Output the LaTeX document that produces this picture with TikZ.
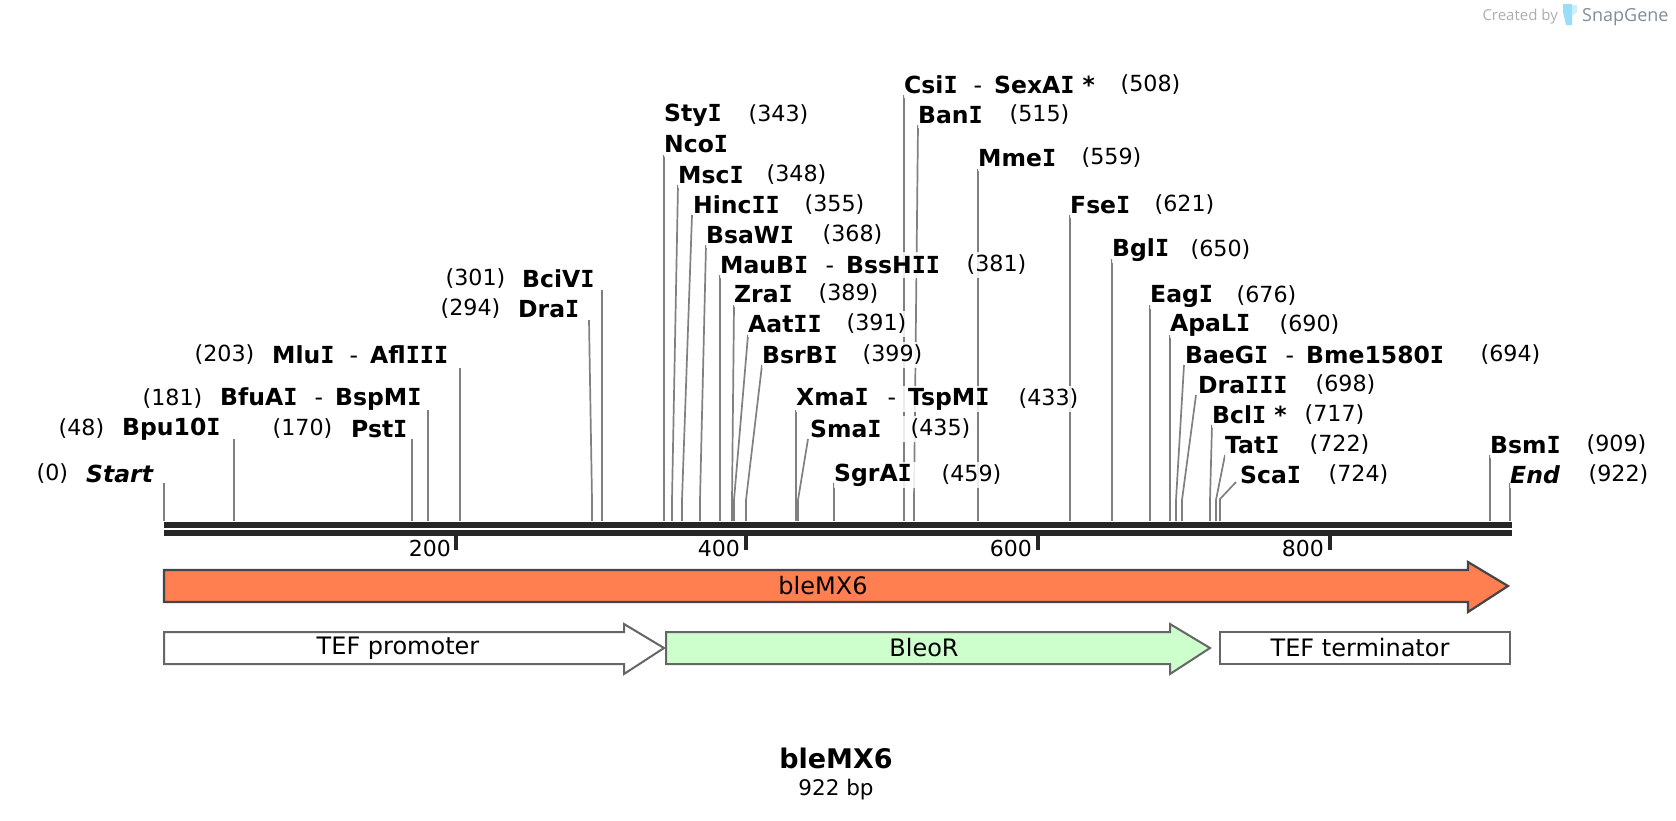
\documentclass[tikz,border=0pt]{standalone}
\usepackage{fontspec}
\setmainfont{DejaVu Sans}
\newfontfamily\logofont{Open Sans}
\newfontfamily\monoIfont{DejaVu Sans Mono}
\definecolor{barcol}{HTML}{262626}
\definecolor{sitecol}{HTML}{808080}
\definecolor{genecol}{HTML}{FF7F50}
\definecolor{bleocol}{HTML}{CCFFCC}
\definecolor{logogray}{HTML}{7F8C99}
\tikzset{
    siteline/.style={draw=sitecol, line width=1.7pt},
    barline/.style={draw=barcol, line width=6pt},
    tickline/.style={draw=barcol, line width=4pt},
    enzname/.style={anchor=west, xshift=-1pt, yshift=-1pt, inner xsep=0pt, inner ysep=0pt, minimum height=26pt, fill=white, fill opacity=0.85, text opacity=1, font=\fontsize{23.5}{26}\selectfont\bfseries},
    enzpos/.style={anchor=west, xshift=-0.5pt, yshift=-1pt, inner xsep=0pt, inner ysep=0pt, minimum height=26pt, fill=white, fill opacity=0.85, text opacity=1, font=\fontsize{22.2}{26}\selectfont},
    ticklabel/.style={anchor=east, inner sep=0pt, font=\fontsize{22}{26}\selectfont},
    featlabel/.style={inner sep=0pt, font=\fontsize{24}{28}\selectfont},
    genebox/.style={draw=black!73, line width=2.2pt, fill=genecol},
    featbox/.style={draw=black!60, line width=2pt},
}
\newcommand{\sI}{{\monoIfont I}}
\newcommand{\pairname}[3]{\makebox[#3pt][l]{#1\hfill{\mdseries-}\hspace{12pt}}#2}
\begin{document}
\begin{tikzpicture}[x=1pt,y=-1pt]
    \useasboundingbox (0,0) rectangle (1676,820);
    % site lines, lower end on the sequence bar
    \coordinate (startB) at (164,521); \coordinate (startT) at (164,483);
    \coordinate (bpuB) at (234,521); \coordinate (bpuT) at (234,439);
    \coordinate (pstB) at (412,521); \coordinate (pstT) at (412,439);
    \coordinate (bfuB) at (428,521); \coordinate (bfuT) at (428,410);
    \coordinate (mluB) at (460,521); \coordinate (mluT) at (460,368);
    \coordinate (draB) at (592,521); \coordinate (draM) at (592,500); \coordinate (draT) at (589,320);
    \coordinate (bciB) at (602,521); \coordinate (bciT) at (602,290);
    \coordinate (ncoB) at (664,521); \coordinate (ncoT) at (664,155);
    \coordinate (mscB) at (672,521); \coordinate (mscM) at (672,500); \coordinate (mscT) at (678,185);
    \coordinate (hincB) at (682,521); \coordinate (hincM) at (682,500); \coordinate (hincT) at (692,215);
    \coordinate (bsaB) at (700,521); \coordinate (bsaM) at (700,500); \coordinate (bsaT) at (706,245);
    \coordinate (mauB) at (720,521); \coordinate (mauT) at (720,275);
    \coordinate (zraB) at (732,521); \coordinate (zraM) at (732,500); \coordinate (zraT) at (734,305);
    \coordinate (aatB) at (734,521); \coordinate (aatM) at (734,500); \coordinate (aatT) at (748,335);
    \coordinate (bsrB) at (746,521); \coordinate (bsrM) at (746,500); \coordinate (bsrT) at (762,365);
    \coordinate (xmaB) at (796,521); \coordinate (xmaT) at (796,410);
    \coordinate (smaB) at (798,521); \coordinate (smaM) at (798,500); \coordinate (smaT) at (808,439);
    \coordinate (sgrB) at (834,521); \coordinate (sgrT) at (834,483);
    \coordinate (csiB) at (904,521); \coordinate (csiT) at (904,95);
    \coordinate (banB) at (914,521); \coordinate (banM) at (914,500); \coordinate (banT) at (918,125);
    \coordinate (mmeB) at (978,521); \coordinate (mmeT) at (978,169);
    \coordinate (fseB) at (1070,521); \coordinate (fseT) at (1070,215);
    \coordinate (bglB) at (1112,521); \coordinate (bglT) at (1112,259);
    \coordinate (eagB) at (1150,521); \coordinate (eagT) at (1150,305);
    \coordinate (apaB) at (1170,521); \coordinate (apaT) at (1170,335);
    \coordinate (baeB) at (1176,521); \coordinate (baeM) at (1176,500); \coordinate (baeT) at (1184,365);
    \coordinate (driiiB) at (1182,521); \coordinate (driiiM) at (1182,500); \coordinate (driiiT) at (1196,395);
    \coordinate (bclB) at (1210,521); \coordinate (bclM) at (1210,500); \coordinate (bclT) at (1212,425);
    \coordinate (tatB) at (1216,521); \coordinate (tatM) at (1216,500); \coordinate (tatT) at (1225,455);
    \coordinate (scaB) at (1220,521); \coordinate (scaM) at (1220,499); \coordinate (scaT) at (1236,482);
    \coordinate (bsmB) at (1490,521); \coordinate (bsmT) at (1490,455);
    \coordinate (endB) at (1510,521); \coordinate (endT) at (1510,483);
    \draw[siteline] (startB) -- (startT);
    \draw[siteline] (bpuB) -- (bpuT);
    \draw[siteline] (pstB) -- (pstT);
    \draw[siteline] (bfuB) -- (bfuT);
    \draw[siteline] (mluB) -- (mluT);
    \draw[siteline] (draB) -- (draM) -- (draT);
    \draw[siteline] (bciB) -- (bciT);
    \draw[siteline] (ncoB) -- (ncoT);
    \draw[siteline] (mscB) -- (mscM) -- (mscT);
    \draw[siteline] (hincB) -- (hincM) -- (hincT);
    \draw[siteline] (bsaB) -- (bsaM) -- (bsaT);
    \draw[siteline] (mauB) -- (mauT);
    \draw[siteline] (zraB) -- (zraM) -- (zraT);
    \draw[siteline] (aatB) -- (aatM) -- (aatT);
    \draw[siteline] (bsrB) -- (bsrM) -- (bsrT);
    \draw[siteline] (xmaB) -- (xmaT);
    \draw[siteline] (smaB) -- (smaM) -- (smaT);
    \draw[siteline] (sgrB) -- (sgrT);
    \draw[siteline] (csiB) -- (csiT);
    \draw[siteline] (banB) -- (banM) -- (banT);
    \draw[siteline] (mmeB) -- (mmeT);
    \draw[siteline] (fseB) -- (fseT);
    \draw[siteline] (bglB) -- (bglT);
    \draw[siteline] (eagB) -- (eagT);
    \draw[siteline] (apaB) -- (apaT);
    \draw[siteline] (baeB) -- (baeM) -- (baeT);
    \draw[siteline] (driiiB) -- (driiiM) -- (driiiT);
    \draw[siteline] (bclB) -- (bclM) -- (bclT);
    \draw[siteline] (tatB) -- (tatM) -- (tatT);
    \draw[siteline] (scaB) -- (scaM) -- (scaT);
    \draw[siteline] (bsmB) -- (bsmT);
    \draw[siteline] (endB) -- (endT);
    % left labels
    \node[enzpos] at (37,473) (startPos) {(0)};
    \node[enzname] at (87,473) (start) {\itshape Start};
    \node[enzpos] at (59,428) (bpuPos) {(48)};
    \node[enzname] at (123,428) (bpu) {Bpu10\sI};
    \node[enzpos] at (273,428) (pstPos) {(170)};
    \node[enzname] at (352,428) (pst) {Pst\sI};
    \node[enzpos] at (143,398) (bfuPos) {(181)};
    \node[enzname] at (221,398) (bfu) {\pairname{BfuA\sI}{BspM\sI}{115}};
    \node[enzpos] at (195,354) (mluPos) {(203)};
    \node[enzname] at (273,354) (mlu) {\pairname{Mlu\sI}{Afl\sI\sI\sI}{98}};
    \node[enzpos] at (441,308) (draPos) {(294)};
    \node[enzname] at (519,308) (dra) {Dra\sI};
    \node[enzpos] at (446,278) (bciPos) {(301)};
    \node[enzname] at (523,278) (bci) {BciV\sI};
    % middle labels
    \node[enzname] at (665,114) (sty) {Sty\sI};
    \node[enzpos] at (749,114) (styPos) {(343)};
    \node[enzname] at (665,143) (nco) {Nco\sI};
    \node[enzname] at (679,174) (msc) {Msc\sI};
    \node[enzpos] at (767,174) (mscPos) {(348)};
    \node[enzname] at (694,204) (hinc) {Hinc\sI\sI};
    \node[enzpos] at (805,204) (hincPos) {(355)};
    \node[enzname] at (707,234) (bsa) {BsaW\sI};
    \node[enzpos] at (823,234) (bsaPos) {(368)};
    \node[enzname] at (721,264) (mau) {\pairname{MauB\sI}{BssH\sI\sI}{126}};
    \node[enzpos] at (967,264) (mauPos) {(381)};
    \node[enzname] at (735,293) (zra) {Zra\sI};
    \node[enzpos] at (819,293) (zraPos) {(389)};
    \node[enzname] at (749,323) (aat) {Aat\sI\sI};
    \node[enzpos] at (847,323) (aatPos) {(391)};
    \node[enzname] at (763,354) (bsr) {BsrB\sI};
    \node[enzpos] at (863,354) (bsrPos) {(399)};
    \node[enzname] at (797,398) (xma) {\pairname{Xma\sI}{TspM\sI}{112}};
    \node[enzpos] at (1019,398) (xmaPos) {(433)};
    \node[enzname, text width=100pt] at (811,428) (sma) {Sma\sI};
    \node[enzpos] at (911,428) (smaPos) {(435)};
    \node[enzname, text width=107pt] at (835,474) (sgr) {SgrA\sI};
    \node[enzpos] at (942,474) (sgrPos) {(459)};
    \node[enzname] at (905,84) (csi) {\pairname{Csi\sI}{SexA\sI{} *}{90}};
    \node[enzpos] at (1121,84) (csiPos) {(508)};
    \node[enzname] at (919,114) (ban) {Ban\sI};
    \node[enzpos] at (1010,114) (banPos) {(515)};
    \node[enzname] at (979,157) (mme) {Mme\sI};
    \node[enzpos] at (1082,157) (mmePos) {(559)};
    % right labels
    \node[enzname] at (1071,204) (fse) {Fse\sI};
    \node[enzpos] at (1155,204) (fsePos) {(621)};
    \node[enzname] at (1113,249) (bgl) {Bgl\sI};
    \node[enzpos] at (1191,249) (bglPos) {(650)};
    \node[enzname] at (1151,295) (eag) {Eag\sI};
    \node[enzpos] at (1237,295) (eagPos) {(676)};
    \node[enzname] at (1171,324) (apa) {ApaL\sI};
    \node[enzpos] at (1280,324) (apaPos) {(690)};
    \node[enzname] at (1186,354) (bae) {\pairname{BaeG\sI}{Bme1580\sI}{121}};
    \node[enzpos] at (1481,354) (baePos) {(694)};
    \node[enzname] at (1199,384) (driii) {Dra\sI\sI\sI};
    \node[enzpos] at (1316,384) (driiiPos) {(698)};
    \node[enzname] at (1213,414) (bcl) {Bcl\sI{} *};
    \node[enzpos] at (1305,414) (bclPos) {(717)};
    \node[enzname] at (1226,444) (tat) {Tat\sI};
    \node[enzpos] at (1310,444) (tatPos) {(722)};
    \node[enzname] at (1241,474) (sca) {Sca\sI};
    \node[enzpos] at (1329,474) (scaPos) {(724)};
    \node[enzname] at (1491,444) (bsm) {Bsm\sI};
    \node[enzpos] at (1587,444) (bsmPos) {(909)};
    \node[enzname] at (1511,474) (end) {\itshape End};
    \node[enzpos] at (1589,474) (endPos) {(922)};
    % sequence bar and ruler
    \coordinate (barTopL) at (164,525); \coordinate (barTopR) at (1512,525);
    \coordinate (barLowL) at (164,533); \coordinate (barLowR) at (1512,533);
    \draw[barline] (barTopL) -- (barTopR);
    \draw[barline] (barLowL) -- (barLowR);
    \coordinate (tickA) at (456,536); \coordinate (tickAe) at (456,550);
    \coordinate (tickB) at (746,536); \coordinate (tickBe) at (746,550);
    \coordinate (tickC) at (1038,536); \coordinate (tickCe) at (1038,550);
    \coordinate (tickD) at (1330,536); \coordinate (tickDe) at (1330,550);
    \draw[tickline] (tickA) -- (tickAe);
    \draw[tickline] (tickB) -- (tickBe);
    \draw[tickline] (tickC) -- (tickCe);
    \draw[tickline] (tickD) -- (tickDe);
    \node[ticklabel] at (451,548) (tickAlab) {200};
    \node[ticklabel] at (740,548) (tickBlab) {400};
    \node[ticklabel] at (1032,548) (tickClab) {600};
    \node[ticklabel] at (1324,548) (tickDlab) {800};
    % features
    \draw[genebox] (164,570) -- (1468,570) -- (1468,562) -- (1508,586) -- (1468,612) -- (1468,602) -- (164,602) -- cycle;
    \draw[featbox, fill=white] (164,632) -- (624,632) -- (624,624) -- (664,648) -- (624,674) -- (624,664) -- (164,664) -- cycle;
    \draw[featbox, fill=bleocol] (666,632) -- (1170,632) -- (1170,624) -- (1210,648) -- (1170,674) -- (1170,664) -- (666,664) -- cycle;
    \draw[featbox, fill=white] (1220,632) rectangle (1510,664);
    \node[featlabel] at (823,586) (bleMX) {bleMX6};
    \node[featlabel] at (398,648) (tefP) {TEF promoter};
    \node[featlabel] at (924,648) (bleoR) {BleoR};
    \node[featlabel] at (1360,648) (tefT) {TEF terminator};
    % title
    \node[inner sep=0pt, font=\fontsize{27}{30}\selectfont\bfseries] at (836,758) (title) {bleMX6};
    \node[inner sep=0pt, font=\fontsize{21.5}{25}\selectfont] at (836,790) (length) {922 bp};
    % logo
    \node[anchor=east, inner sep=0pt, text=black!32, font=\logofont\fontsize{15}{16}\selectfont] at (1558,17) (created) {Created by};
    \fill[cyan!40] (1563,4) -- (1572,4) -- (1572,25) -- (1566,25) -- (1563,12) -- cycle;
    \fill[cyan!20] (1572,5) -- (1577,5) -- (1577,12) -- (1572,16) -- cycle;
    \node[anchor=west, inner sep=0pt, text=logogray, font=\logofont\fontsize{18}{20}\selectfont] at (1582,17) (snap) {SnapGene};
\end{tikzpicture}
\end{document}
